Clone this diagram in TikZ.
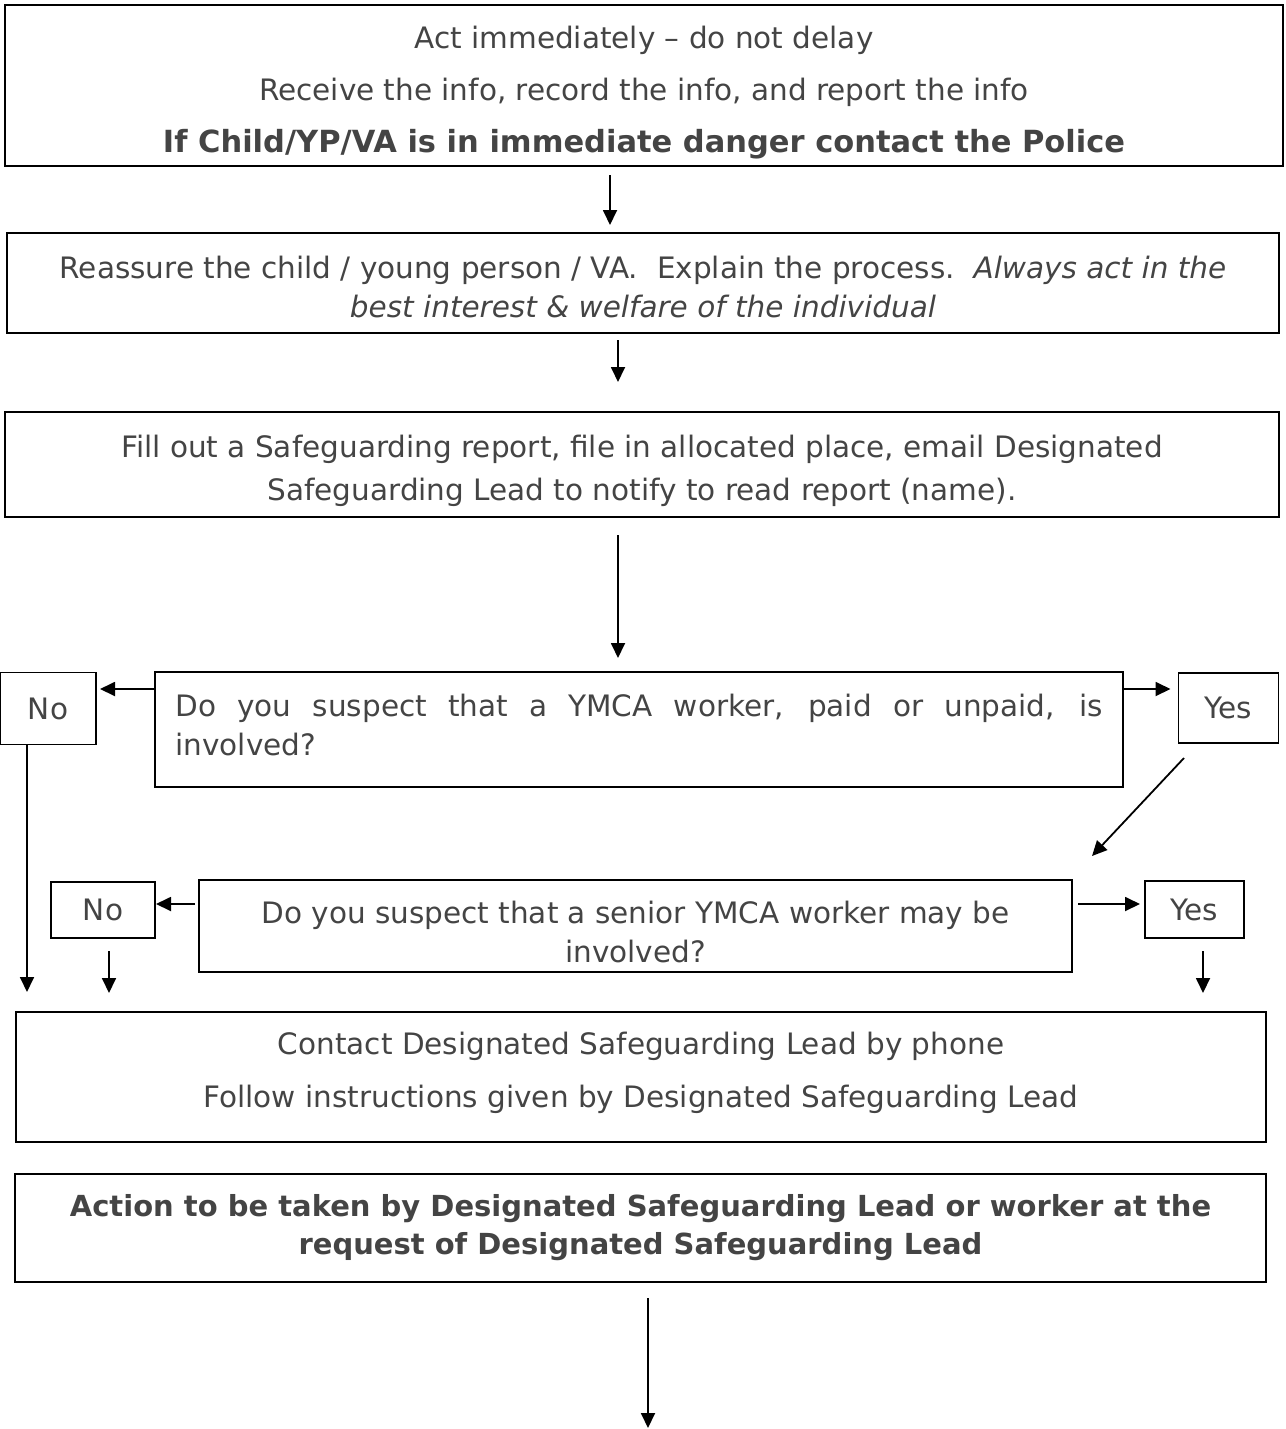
\documentclass[tikz,border=0pt]{standalone}
\usepackage{fontspec}
\setmainfont{DejaVu Sans}
\usetikzlibrary{arrows.meta}
\definecolor{boxtext}{HTML}{444444}

\begin{document}
\begin{tikzpicture}[x=1pt,y=-1pt,
  box/.style={draw,line width=1.8pt,inner sep=0pt,outer sep=0pt,text=boxtext,font=\fontsize{29.5}{39}\selectfont},
  words/.style={inner sep=0pt,text=boxtext,align=center,font=\fontsize{29.5}{39}\selectfont},
  arr/.style={line width=1.8pt,-{Triangle[length=15pt,width=14pt]}}]
\useasboundingbox (0,0) rectangle (1285,1429);

\node[box,minimum width=1278,minimum height=161] (act) at (644,85.5) {};
\node[words] (acttext) at (644,92.5) {Act immediately – do not delay\\[13pt]
 Receive the info, record the info, and report the info\\[13pt]
 {\fontsize{30.5}{39}\selectfont\bfseries If Child/YP/VA is in immediate danger contact the Police}\hspace{24pt}};

\node[box,minimum width=1272,minimum height=100] (reassure) at (643,283) {};
\node[words] (reassuretext) at (643,286.5) {Reassure the child / young person / VA.\ \ Explain the process.\ \ \textit{Always act in the}\\
 \textit{best interest \& welfare of the individual}};

\node[box,minimum width=1274,minimum height=105] (report) at (642,464.5) {};
\node[words] (reporttext) at (642,470.5) {Fill out a Safeguarding report, file in allocated place, email Designated\\[4pt]
 Safeguarding Lead to notify to read report (name).};

\node[box,minimum width=968,minimum height=115] (worker) at (639,729.5) {};
\node[words,text width=927,align=justify] (workertext) at (639,724.5) {Do you suspect that a YMCA worker, paid or unpaid, is\linebreak involved?};
\node[box,minimum width=96,minimum height=72] (no1) at (48,708.5) {No};
\node[box,minimum width=100,minimum height=70] (yes1) at (1228.5,708) {Yes};

\node[box,minimum width=873,minimum height=92] (senior) at (635.5,926) {};
\node[words] (seniortext) at (635.5,932) {Do you suspect that a senior YMCA worker may be\\ involved?};
\node[box,minimum width=104,minimum height=56] (no2) at (103,910) {No};
\node[box,minimum width=99,minimum height=57] (yes2) at (1194.5,909.5) {Yes};

\node[box,minimum width=1250,minimum height=130] (contact) at (641,1077) {};
\node[words] (contacttext) at (641,1073) {Contact Designated Safeguarding Lead by phone\\[14pt]
 Follow instructions given by Designated Safeguarding Lead};

\node[box,minimum width=1251,minimum height=108] (action) at (640.5,1228) {};
\node[words,font=\bfseries\fontsize{29}{38}\selectfont] (actiontext) at (640.5,1228) {Action to be taken by Designated Safeguarding Lead or worker at the\\
 request of Designated Safeguarding Lead};
\coordinate (next) at (648,1428);

\draw[arr,shorten <=9pt,shorten >=8pt] ([xshift=-34pt]act.south) -- ([xshift=-33pt]reassure.north);
\draw[arr,shorten <=7pt,shorten >=30pt] ([xshift=-25pt]reassure.south) -- ([xshift=-24pt]report.north);
\draw[arr,shorten <=18pt,shorten >=14pt] ([xshift=-24pt]report.south) -- ([xshift=-21pt]worker.north);

\draw[arr,shorten >=4pt] ([yshift=40.5pt]worker.west) -- ([yshift=19.5pt]no1.east);
\draw[arr,shorten >=8pt] ([yshift=40.5pt]worker.east) -- ([yshift=19pt]yes1.west);
\draw[arr] ([xshift=-44.5pt,yshift=-15pt]yes1.south) -- ([xshift=20pt,yshift=24pt]senior.north east);

\draw[arr,shorten <=4pt,shorten >=1pt] ([yshift=22pt]senior.west) -- ([yshift=6pt]no2.east);
\draw[arr,shorten <=6pt,shorten >=5pt] ([yshift=22pt]senior.east) -- ([yshift=5.5pt]yes2.west);

\draw[arr] ([xshift=-21pt]no1.south) -- ([xshift=11pt,yshift=20pt]contact.north west);
\draw[arr] ([xshift=6pt,yshift=-13pt]no2.south) -- ([xshift=93pt,yshift=19pt]contact.north west);
\draw[arr] ([xshift=8.5pt,yshift=-13pt]yes2.south) -- ([xshift=-63pt,yshift=19pt]contact.north east);

\draw[arr,shorten <=16pt] ([xshift=7.5pt]action.south) -- (next);
\end{tikzpicture}
\end{document}
